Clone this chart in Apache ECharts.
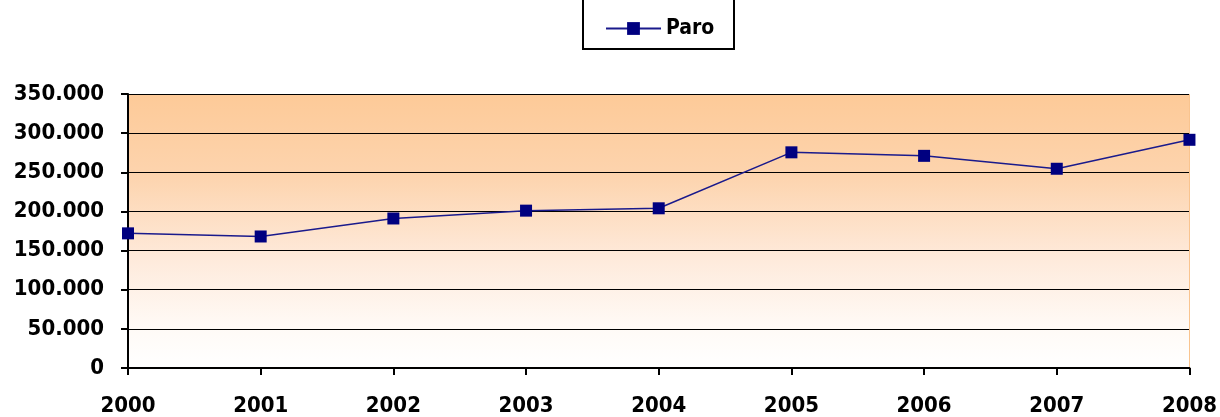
<!DOCTYPE html>
<html>
<head>
<meta charset="utf-8">
<script src="https://cdn.jsdelivr.net/npm/echarts@6/dist/echarts.min.js"></script>
<style>
  html, body { margin: 0; padding: 0; background: #fff; }
  #chart { width: 1220px; height: 417px; }
</style>
</head>
<body>
<div id="chart"></div>
<script>
// years on the x axis
var years = ['2000', '2001', '2002', '2003', '2004', '2005', '2006', '2007', '2008']
// unemployment (Paro), people
var paro = [172000, 168000, 191000, 201000, 204000, 275500, 271000, 254500, 291500]
var seriesName = 'Paro'

var labelFont = {
  fontFamily: '"DejaVu Sans Condensed", "DejaVu Sans", sans-serif',
  fontWeight: 'bold',
  fontSize: 22,
  color: '#000'
}

function fmtThousands(v) {
  if (v === 0) return '0'
  return String(v).replace(/\B(?=(\d{3})+(?!\d))/g, '.')
}

var chart = echarts.init(document.getElementById('chart'))
chart.setOption({
  animation: false,
  legend: {
    data: [seriesName],
    top: 18,
    left: 605,
    padding: 0,
    itemWidth: 55,
    itemHeight: 16,
    itemGap: 6,
    textStyle: Object.assign({}, labelFont, { fontSize: 21 })
  },
  graphic: [{
    type: 'polyline',
    shape: { points: [[583, 0], [583, 49], [734, 49], [734, 0]] },
    style: { stroke: '#000', lineWidth: 2, fill: null }
  }],
  grid: {
    left: 128,
    right: 30,
    top: 94,
    bottom: 47,
    show: true,
    borderWidth: 0,
    backgroundColor: {
      type: 'linear', x: 0, y: 0, x2: 0, y2: 1,
      colorStops: [
        { offset: 0, color: '#fdca98' },
        { offset: 0.3, color: '#fdd4ae' },
        { offset: 0.6, color: '#feeadb' },
        { offset: 0.85, color: '#fffaf6' },
        { offset: 1, color: '#ffffff' }
      ]
    }
  },
  xAxis: {
    type: 'category',
    data: years,
    boundaryGap: false,
    axisLine: { lineStyle: { color: '#000', width: 2 } },
    axisTick: { show: true, length: 7, inside: false, lineStyle: { color: '#000', width: 2 } },
    axisLabel: Object.assign({ margin: 27 }, labelFont),
    splitLine: { show: true, lineStyle: { color: '#f9c48f', width: 1 }, interval: function (i) { return i === years.length - 1 } }
  },
  yAxis: {
    type: 'value',
    min: 0,
    max: 350000,
    interval: 50000,
    axisLine: { show: true, lineStyle: { color: '#000', width: 2 } },
    axisTick: { show: true, length: 7, lineStyle: { color: '#000', width: 2 } },
    axisLabel: Object.assign({ margin: 24, formatter: fmtThousands }, labelFont),
    splitLine: { lineStyle: { color: '#000', width: 1.2 } }
  },
  series: [{
    name: seriesName,
    type: 'line',
    data: paro,
    symbol: 'rect',
    symbolSize: 12,
    itemStyle: { color: '#000080' },
    lineStyle: { color: '#1a1a8c', width: 1.5 }
  }]
})
</script>
</body>
</html>
